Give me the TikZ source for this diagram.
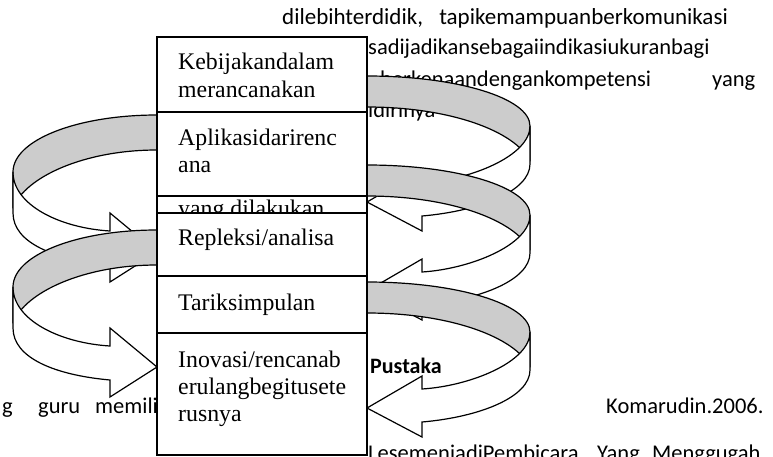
\documentclass[tikz,border=0pt]{standalone}
\usepackage{fontspec}
\setmainfont{Liberation Serif}
\newfontfamily\pagefont{Carlito}
\definecolor{bandgray}{RGB}{204,204,204}
\tikzset{
  boxtext/.style={anchor=base west, inner sep=0pt, font=\fontsize{23.8pt}{28pt}\selectfont},
  pagetext/.style={anchor=base west, inner sep=0pt, font=\pagefont\fontsize{22.5pt}{27pt}\selectfont},
  widetext/.style={anchor=base west, inner sep=0pt, font=\pagefont\fontsize{23pt}{28pt}\selectfont},
  stepbox/.style={draw, fill=white, line width=1.2pt, anchor=north west, minimum width=210pt, inner sep=0pt, outer sep=0pt},
  backband/.style={fill=bandgray, draw, line width=1.2pt, line join=round},
  frontband/.style={fill=white, draw, line width=1.2pt, line join=miter},
}
\newcommand{\rightloop}[1]{%
  \begin{scope}[shift={(0,#1)}]
    \filldraw[backband] (367,0) .. controls (457,0) and (530,22) .. (530,50) -- (530,85)
      .. controls (515,55) and (450,31) .. (367,31) -- cycle;
    \filldraw[frontband] (530,50) -- (530,88) .. controls (530,115) and (480,135) .. (422,140)
      -- (422,155) -- (367,126) -- (422,94) -- (422,107)
      .. controls (470,104) and (530,80) .. (530,50) -- cycle;
  \end{scope}}
\newcommand{\leftloop}[1]{%
  \begin{scope}[shift={(0,#1)}]
    \filldraw[backband] (157,0) .. controls (77,0) and (13,25) .. (13,57) -- (13,93)
      .. controls (25,62) and (84,35) .. (157,35) -- cycle;
    \filldraw[frontband] (13,57) -- (13,98) .. controls (13,128) and (55,145) .. (110,150)
      -- (110,167) -- (157,137) -- (110,98) -- (110,116)
      .. controls (60,113) and (13,90) .. (13,57) -- cycle;
  \end{scope}}
\begin{document}
\begin{tikzpicture}[x=1pt,y=-1pt]
\useasboundingbox (0,0) rectangle (773,456);
\clip (0,0) rectangle (773,456);
\fill[white] (0,0) rectangle (773,456);
% page text behind the figure
\node[widetext] (p1a) at (282,24) {dilebihterdidik,};
\node[widetext, anchor=base east] (p1b) at (728,24) {tapikemampuanberkomunikasi};
\node[pagetext] (p2) at (368,54) {sadijadikansebagaiindikasiukuranbagi};
\node[pagetext] (p3a) at (380,86) {berkenaandengankompetensi};
\node[pagetext] (p3b) at (712,86) {yang};
\node[pagetext] (p4) at (368,117) {idirinya};
\node[pagetext] (p5a) at (2,413) {g};
\node[pagetext] (p5b) at (38,413) {guru};
\node[pagetext] (p5c) at (95,413) {memili};
\node[pagetext] (p6) at (606,413) {Komarudin.2006.};
\node[pagetext] (p7a) at (368,460) {LesemenjadiPembicara};
\node[pagetext] (p7b) at (597,460) {Yang};
\node[pagetext] (p7c) at (652,460) {Menggugah};
% curved arrows
\leftloop{115}
\leftloop{230}
\rightloop{76}
\rightloop{165}
\rightloop{282}
% boxes
\node[stepbox, minimum height=75pt] (b1) at (157,37) {};
\node[boxtext] (t1a) at (178,69) {Kebijakandalam};
\node[boxtext] (t1b) at (178,97) {merancanakan};
\node[stepbox, minimum height=84pt] (b2) at (157,112) {};
\node[boxtext] (t2a) at (178,145) {Aplikasidarirenc};
\node[boxtext] (t2b) at (178,172) {ana};
\node[stepbox, minimum height=17pt] (b2x) at (157,196) {};
\node[boxtext] (t2c) at (178,216) {yang dilakukan};
\node[stepbox, minimum height=63pt] (b3) at (157,213) {};
\node[boxtext] (t3) at (178,245) {Repleksi/analisa};
\node[stepbox, minimum height=57pt] (b4) at (157,276) {};
\node[boxtext] (t4) at (178,310) {Tariksimpulan};
\node[stepbox, minimum height=122pt] (b5) at (157,333) {};
\node[boxtext] (t5a) at (178,367) {Inovasi/rencanab};
\node[boxtext] (t5b) at (178,394) {erulangbegitusete};
\node[boxtext] (t5c) at (178,421) {rusnya};
\node[pagetext, font=\pagefont\bfseries\fontsize{22pt}{26pt}\selectfont] (pus) at (370,373) {Pustaka};
\end{tikzpicture}
\end{document}
